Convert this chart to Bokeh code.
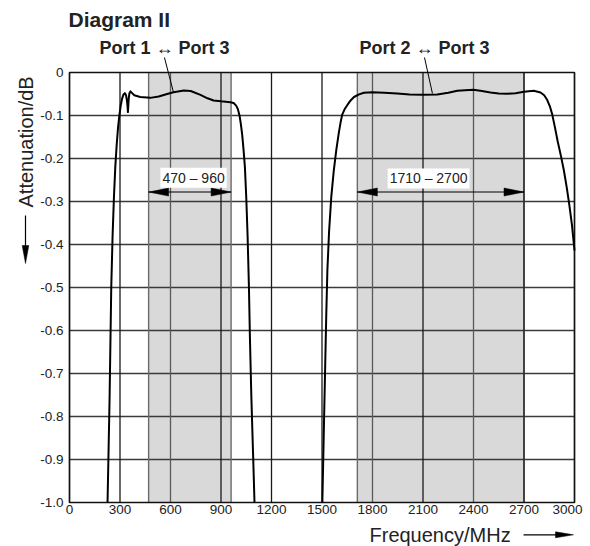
from bokeh.plotting import figure
from bokeh.models import Label
from bokeh.core.properties import value
from bokeh.embed import file_html
from bokeh.resources import INLINE

FONT = "Liberation Sans"
TXT = "#222222"
W, H = 590, 546

# ---- data ----
x_ticks = [0, 300, 600, 900, 1200, 1500, 1800, 2100, 2400, 2700, 3000]
x_tick_labels = ["0", "300", "600", "900", "1200", "1500", "1800", "2100", "2400", "2700", "3000"]
y_ticks = [0, -0.1, -0.2, -0.3, -0.4, -0.5, -0.6, -0.7, -0.8, -0.9, -1.0]
y_tick_labels = ["0", "-0.1", "-0.2", "-0.3", "-0.4", "-0.5", "-0.6", "-0.7", "-0.8", "-0.9", "-1.0"]

band_lo = [470, 1710]
band_hi = [960, 2700]
band_labels = ["470 \u2013 960", "1710 \u2013 2700"]
band_label_x = [737, 2133]
band_label_y = [-0.245, -0.2465]
band_arrow_y = -0.278

port_labels = ["Port 1 \u2194 Port 3", "Port 2 \u2194 Port 3"]
port_label_x = [564, 2109]          # MHz, centre of each label
leader_end_x = [618, 2156]          # MHz, where the leader touches the curve
leader_end_y = [-0.0465, -0.0488]   # dB

title = "Diagram II"
y_label = "Attenuation/dB"
x_label = "Frequency/MHz"

# Port 1 <-> Port 3 attenuation (MHz, dB)
f13 = [226, 232, 238, 243, 248, 256, 264, 272, 280, 288, 296, 305, 313, 321, 329,
       336, 341, 345, 347, 349, 352, 356, 362, 372, 385, 420, 480, 530, 580, 618,
       679, 720, 778, 820, 856, 900, 956, 975, 990, 1000, 1010, 1018, 1026, 1034,
       1042, 1050, 1058, 1066, 1072, 1080, 1090, 1099]
d13 = [-1.0, -0.88, -0.76, -0.63, -0.5, -0.38, -0.29, -0.22, -0.17, -0.13, -0.1, -0.075,
       -0.06, -0.051, -0.048, -0.053, -0.065, -0.08, -0.092, -0.08, -0.06, -0.048, -0.044,
       -0.048, -0.053, -0.057, -0.059, -0.056, -0.05, -0.046, -0.042, -0.043, -0.052, -0.06,
       -0.065, -0.067, -0.069, -0.071, -0.077, -0.085, -0.1, -0.12, -0.145, -0.18, -0.22,
       -0.29, -0.38, -0.5, -0.62, -0.75, -0.88, -1.0]

# Port 2 <-> Port 3 attenuation (MHz, dB)
f23 = [1502, 1510, 1518, 1525, 1532, 1542, 1555, 1570, 1585, 1600, 1610, 1620, 1635,
       1650, 1670, 1690, 1720, 1749, 1798, 1870, 1947, 2020, 2100, 2185, 2250, 2304,
       2350, 2400, 2450, 2501, 2550, 2600, 2650, 2700, 2758, 2798, 2820, 2838, 2855,
       2868, 2885, 2900, 2920, 2937, 2955, 2970, 2985, 3000]
d23 = [-1.0, -0.85, -0.7, -0.57, -0.46, -0.37, -0.29, -0.228, -0.18, -0.14, -0.117,
       -0.098, -0.085, -0.076, -0.065, -0.057, -0.051, -0.047, -0.046, -0.047, -0.049,
       -0.051, -0.052, -0.0512, -0.047, -0.0426, -0.041, -0.040, -0.043, -0.0465, -0.049,
       -0.0496, -0.048, -0.045, -0.0426, -0.0465, -0.053, -0.064, -0.08, -0.098, -0.13,
       -0.16, -0.195, -0.228, -0.27, -0.31, -0.355, -0.414]

# ---- layout: plot area spans 69..574 px horizontally and 72..502 px vertically ----
X0, X1 = x_ticks[0], x_ticks[-1]
Y0, Y1 = y_ticks[-1], y_ticks[0]
PL, PR, PT, PB = 69, 574, 72, 502
KX = (X1 - X0) / (PR - PL)          # MHz per pixel
KY = (Y1 - Y0) / (PB - PT)          # dB per pixel

def dx(px):  # canvas pixel -> MHz
    return X0 + (px - PL) * KX

def dy(py):  # canvas pixel -> dB
    return Y1 - (py - PT) * KY

p = figure(width=W, height=H, x_range=(dx(0), dx(W)), y_range=(dy(H), dy(0)),
           output_backend="svg", toolbar_location=None,
           x_axis_type=None, y_axis_type=None,
           min_border=0, min_border_left=0, min_border_right=0,
           min_border_top=0, min_border_bottom=0,
           background_fill_color="white", border_fill_color="white")
p.outline_line_color = None
p.xgrid.visible = False
p.ygrid.visible = False

def txt(xs, ys, texts, size, align="center", bold=False, angle=0, font=FONT):
    p.text(x=xs, y=ys, text=texts, text_align=align, text_baseline="middle",
           angle=angle, angle_units="deg", text_font=value(font),
           text_font_size=value(size), text_font_style="bold" if bold else "normal",
           text_color=TXT)

# shaded bands
p.quad(left=band_lo, right=band_hi, bottom=Y0, top=Y1, fill_color="#d9d9d9", line_color=None)

# grid lines
inner = y_ticks[1:-1]
p.segment(x0=[X0] * len(inner), x1=[X1] * len(inner), y0=inner, y1=inner,
          line_color="#3a3a3a", line_width=1.3)
edges = band_lo + band_hi
p.segment(x0=edges, x1=edges, y0=[Y0] * len(edges), y1=[Y1] * len(edges),
          line_color="#6a6a6a", line_width=1.4)
vx = x_ticks[1:-1]
in_band = [any(lo < v < hi for lo, hi in zip(band_lo, band_hi)) and v not in (900, 2100) for v in vx]
vcol = ["#5a5a5a" if b else "#1a1a1a" for b in in_band]
p.segment(x0=vx, x1=vx, y0=[Y0] * len(vx), y1=[Y1] * len(vx), line_color=vcol, line_width=1.3)

# plot frame
p.quad(left=[X0], right=[X1], bottom=[Y0], top=[Y1], fill_color=None,
       line_color="#111111", line_width=1.7)

# tick labels (placed through the data scales)
xt_align = ["center"] * (len(x_ticks) - 1) + ["right"]
xt_pos = x_ticks[:-1] + [dx(582)]
txt(xt_pos, [dy(508.7)] * len(x_ticks), x_tick_labels, "13.5px", align=xt_align)
txt([dx(63)] * len(y_ticks), y_ticks, y_tick_labels, "13.5px", align="right")

# band arrows
p.segment(x0=band_lo, x1=band_hi, y0=[band_arrow_y] * 2, y1=[band_arrow_y] * 2,
          line_color="black", line_width=1.1)
L = 20 * KX      # head length
hh = 4 * KY      # head half width
hx, hy = [], []
for lo, hi in zip(band_lo, band_hi):
    hx.append([lo, lo + L, lo + L]); hy.append([band_arrow_y, band_arrow_y + hh, band_arrow_y - hh])
    hx.append([hi, hi - L, hi - L]); hy.append([band_arrow_y, band_arrow_y + hh, band_arrow_y - hh])
p.patches(hx, hy, fill_color="black", line_color="black", line_width=0.5)

for t, x, y in zip(band_labels, band_label_x, band_label_y):
    p.add_layout(Label(x=x, y=y, text=t, text_align="center", text_baseline="middle",
                       text_font=FONT, text_font_size="14px", text_color=TXT,
                       background_fill_color="white", padding=2))

# curves
p.line(f13, d13, line_color="black", line_width=2, line_join="round")
p.line(f23, d23, line_color="black", line_width=2, line_join="round")

# port labels and leader lines
txt(port_label_x, [dy(47.8)] * 2, port_labels, "18px", bold=True)
p.segment(x0=port_label_x, y0=[dy(57)] * 2, x1=leader_end_x, y1=leader_end_y,
          line_color="black", line_width=1)

# title
txt([dx(68)], [dy(18.5)], [title], "21px", align="left", bold=True)

# y-axis label with downward arrow
txt([dx(25.5)], [dy(207)], [y_label], "20px", align="left", angle=90)
p.segment(x0=[dx(25)], y0=[dy(215)], x1=[dx(25)], y1=[dy(250)], line_color="black", line_width=1.2)
p.patches([[dx(21.7), dx(28.3), dx(25)]], [[dy(245), dy(245), dy(263)]],
          fill_color="black", line_color="black", line_width=0.5)

# x-axis label with arrow
txt([dx(369)], [dy(534.3)], [x_label], "20px", align="left")
p.segment(x0=[dx(523)], y0=[dy(534.3)], x1=[dx(560)], y1=[dy(534.3)], line_color="black", line_width=1.2)
p.patches([[dx(555), dx(555), dx(573)]], [[dy(531.3), dy(537.3), dy(534.3)]],
          fill_color="black", line_color="black", line_width=0.5)

open("out.html", "w").write(file_html(p, INLINE))
